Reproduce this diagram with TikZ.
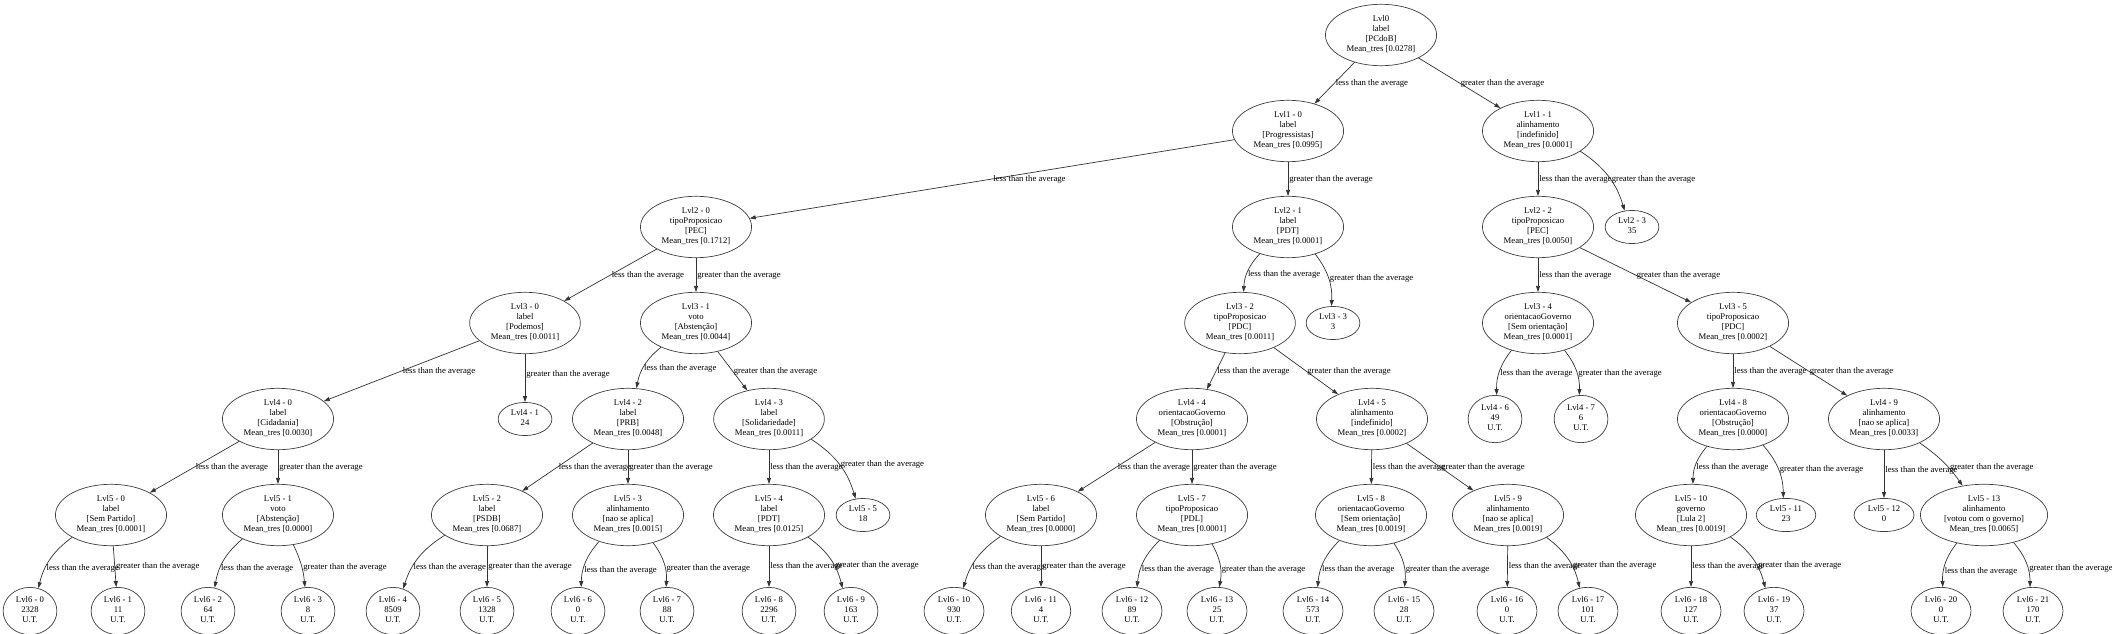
\documentclass[tikz,border=0pt]{standalone}
\usepackage{fontspec}
\setmainfont{Liberation Serif}
\usetikzlibrary{arrows.meta, shapes.geometric}

\begin{document}
\begin{tikzpicture}
      [x=1pt, y=1pt,
      font=\fontsize{8.7}{10}\selectfont,
      vertex/.style={ellipse, draw=black!75, line width=0.7pt, fill=white, align=center,
        inner xsep=5pt, inner ysep=2.2pt,
        execute at begin node=\strut, execute at end node=\strut},
      arr/.style={{Triangle[length=6pt,width=4pt]}-, draw=black!80, line width=0.7pt},
      lab/.style={anchor=west, inner sep=1pt}]
      \useasboundingbox (0,0) rectangle (2112,-634);
      \node (l0) at (1381,-35) [vertex] {Lvl0\\label\\{[PCdoB]}\\Mean\_tres [0.0278]};
      \node (l1n0) at (1288,-131) [vertex] {Lvl1 - 0\\label\\{[Progressistas]}\\Mean\_tres [0.0995]}
      edge[arr] node[lab] {less than the average} (l0);
      \node (l1n1) at (1538,-131) [vertex] {Lvl1 - 1\\alinhamento\\{[indefinido]}\\Mean\_tres [0.0001]}
      edge[arr] node[lab] {greater than the average} (l0);
      \node (l2n0) at (696,-227) [vertex] {Lvl2 - 0\\tipoProposicao\\{[PEC]}\\Mean\_tres [0.1712]}
      edge[arr] node[lab] {less than the average} (l1n0);
      \node (l2n1) at (1288,-227) [vertex] {Lvl2 - 1\\label\\{[PDT]}\\Mean\_tres [0.0001]}
      edge[arr] node[lab] {greater than the average} (l1n0);
      \node (l2n2) at (1538,-227) [vertex] {Lvl2 - 2\\tipoProposicao\\{[PEC]}\\Mean\_tres [0.0050]}
      edge[arr] node[lab] {less than the average} (l1n1);
      \node (l2n3) at (1632,-227) [vertex] {Lvl2 - 3\\35}
      edge[arr, bend right=20] node[lab, pos=.45] {greater than the average} (l1n1);
      \node (l3n0) at (525,-323) [vertex] {Lvl3 - 0\\label\\{[Podemos]}\\Mean\_tres [0.0011]}
      edge[arr] node[lab] {less than the average} (l2n0);
      \node (l3n1) at (696,-323) [vertex] {Lvl3 - 1\\voto\\{[Abstenção]}\\Mean\_tres [0.0044]}
      edge[arr] node[lab] {greater than the average} (l2n0);
      \node (l3n2) at (1240,-323) [vertex] {Lvl3 - 2\\tipoProposicao\\{[PDC]}\\Mean\_tres [0.0011]}
      edge[arr, bend left=20] node[lab, pos=.42] {less than the average} (l2n1);
      \node (l3n3) at (1333,-323) [vertex] {Lvl3 - 3\\3}
      edge[arr, bend right=20] node[lab] {greater than the average} (l2n1);
      \node (l3n4) at (1538,-323) [vertex] {Lvl3 - 4\\orientacaoGoverno\\{[Sem orientação]}\\Mean\_tres [0.0001]}
      edge[arr] node[lab] {less than the average} (l2n2);
      \node (l3n5) at (1733,-323) [vertex] {Lvl3 - 5\\tipoProposicao\\{[PDC]}\\Mean\_tres [0.0002]}
      edge[arr] node[lab] {greater than the average} (l2n2);
      \node (l4n0) at (278,-419) [vertex] {Lvl4 - 0\\label\\{[Cidadania]}\\Mean\_tres [0.0030]}
      edge[arr] node[lab] {less than the average} (l3n0);
      \node (l4n1) at (525,-419) [vertex] {Lvl4 - 1\\24}
      edge[arr] node[lab, pos=.58] {greater than the average} (l3n0);
      \node (l4n2) at (628,-419) [vertex] {Lvl4 - 2\\label\\{[PRB]}\\Mean\_tres [0.0048]}
      edge[arr, bend left=20] node[lab, pos=.42] {less than the average} (l3n1);
      \node (l4n3) at (769,-419) [vertex] {Lvl4 - 3\\label\\{[Solidariedade]}\\Mean\_tres [0.0011]}
      edge[arr] node[lab] {greater than the average} (l3n1);
      \node (l4n4) at (1192,-419) [vertex] {Lvl4 - 4\\orientacaoGoverno\\{[Obstrução]}\\Mean\_tres [0.0001]}
      edge[arr] node[lab] {less than the average} (l3n2);
      \node (l4n5) at (1372,-419) [vertex] {Lvl4 - 5\\alinhamento\\{[indefinido]}\\Mean\_tres [0.0002]}
      edge[arr] node[lab] {greater than the average} (l3n2);
      \node (l4n6) at (1495,-419) [vertex] {Lvl4 - 6\\49\\U.T.}
      edge[arr, bend left=20] node[lab, pos=.45] {less than the average} (l3n4);
      \node (l4n7) at (1581,-419) [vertex] {Lvl4 - 7\\6\\U.T.}
      edge[arr, bend right=20] node[lab, pos=.45] {greater than the average} (l3n4);
      \node (l4n8) at (1733,-419) [vertex] {Lvl4 - 8\\orientacaoGoverno\\{[Obstrução]}\\Mean\_tres [0.0000]}
      edge[arr] node[lab] {less than the average} (l3n5);
      \node (l4n9) at (1884,-419) [vertex] {Lvl4 - 9\\alinhamento\\{[nao se aplica]}\\Mean\_tres [0.0033]}
      edge[arr] node[lab] {greater than the average} (l3n5);
      \node (l5n0) at (111,-515) [vertex] {Lvl5 - 0\\label\\{[Sem Partido]}\\Mean\_tres [0.0001]}
      edge[arr] node[lab] {less than the average} (l4n0);
      \node (l5n1) at (278,-515) [vertex] {Lvl5 - 1\\voto\\{[Abstenção]}\\Mean\_tres [0.0000]}
      edge[arr] node[lab] {greater than the average} (l4n0);
      \node (l5n2) at (487,-515) [vertex] {Lvl5 - 2\\label\\{[PSDB]}\\Mean\_tres [0.0687]}
      edge[arr] node[lab] {less than the average} (l4n2);
      \node (l5n3) at (628,-515) [vertex] {Lvl5 - 3\\alinhamento\\{[nao se aplica]}\\Mean\_tres [0.0015]}
      edge[arr] node[lab] {greater than the average} (l4n2);
      \node (l5n4) at (769,-515) [vertex] {Lvl5 - 4\\label\\{[PDT]}\\Mean\_tres [0.0125]}
      edge[arr] node[lab] {less than the average} (l4n3);
      \node (l5n5) at (863,-515) [vertex] {Lvl5 - 5\\18}
      edge[arr, bend right=20] node[lab] {greater than the average} (l4n3);
      \node (l5n6) at (1041,-515) [vertex] {Lvl5 - 6\\label\\{[Sem Partido]}\\Mean\_tres [0.0000]}
      edge[arr] node[lab] {less than the average} (l4n4);
      \node (l5n7) at (1192,-515) [vertex] {Lvl5 - 7\\tipoProposicao\\{[PDL]}\\Mean\_tres [0.0001]}
      edge[arr] node[lab] {greater than the average} (l4n4);
      \node (l5n8) at (1371,-515) [vertex] {Lvl5 - 8\\orientacaoGoverno\\{[Sem orientação]}\\Mean\_tres [0.0019]}
      edge[arr] node[lab] {less than the average} (l4n5);
      \node (l5n9) at (1508,-515) [vertex] {Lvl5 - 9\\alinhamento\\{[nao se aplica]}\\Mean\_tres [0.0019]}
      edge[arr] node[lab] {greater than the average} (l4n5);
      \node (l5n10) at (1691,-515) [vertex] {Lvl5 - 10\\governo\\{[Lula 2]}\\Mean\_tres [0.0019]}
      edge[arr, bend left=20] node[lab, pos=.4] {less than the average} (l4n8);
      \node (l5n11) at (1786,-515) [vertex] {Lvl5 - 11\\23}
      edge[arr, bend right=20] node[lab] {greater than the average} (l4n8);
      \node (l5n12) at (1884,-515) [vertex] {Lvl5 - 12\\0}
      edge[arr] node[lab, pos=.58] {less than the average} (l4n9);
      \node (l5n13) at (1984,-515) [vertex] {Lvl5 - 13\\alinhamento\\{[votou com o governo]}\\Mean\_tres [0.0065]}
      edge[arr, bend right=10] node[lab, pos=.36] {greater than the average} (l4n9);
      \node (l6n0) at (30,-611) [vertex] {Lvl6 - 0\\2328\\U.T.}
      edge[arr, bend left=20] node[lab, pos=.33] {less than the average} (l5n0);
      \node (l6n1) at (118,-611) [vertex] {Lvl6 - 1\\11\\U.T.}
      edge[arr] node[lab] {greater than the average} (l5n0);
      \node (l6n2) at (208,-611) [vertex] {Lvl6 - 2\\64\\U.T.}
      edge[arr, bend left=20] node[lab, pos=.33] {less than the average} (l5n1);
      \node (l6n3) at (308,-611) [vertex] {Lvl6 - 3\\8\\U.T.}
      edge[arr, bend right=10] node[lab, pos=.44] {greater than the average} (l5n1);
      \node (l6n4) at (393,-611) [vertex] {Lvl6 - 4\\8509\\U.T.}
      edge[arr, bend left=20] node[lab, pos=.33] {less than the average} (l5n2);
      \node (l6n5) at (487,-611) [vertex] {Lvl6 - 5\\1328\\U.T.}
      edge[arr] node[lab] {greater than the average} (l5n2);
      \node (l6n6) at (578,-611) [vertex] {Lvl6 - 6\\0\\U.T.}
      edge[arr, bend left=20] node[lab, pos=.33] {less than the average} (l5n3);
      \node (l6n7) at (667,-611) [vertex] {Lvl6 - 7\\88\\U.T.}
      edge[arr, bend right=20] node[lab, pos=.38] {greater than the average} (l5n3);
      \node (l6n8) at (769,-611) [vertex] {Lvl6 - 8\\2296\\U.T.}
      edge[arr] node[lab] {less than the average} (l5n4);
      \node (l6n9) at (851,-611) [vertex] {Lvl6 - 9\\163\\U.T.}
      edge[arr, bend right=20] node[lab, pos=.38] {greater than the average} (l5n4);
      \node (l6n10) at (954,-611) [vertex] {Lvl6 - 10\\930\\U.T.}
      edge[arr, bend left=20] node[lab, pos=.33] {less than the average} (l5n6);
      \node (l6n11) at (1041,-611) [vertex] {Lvl6 - 11\\4\\U.T.}
      edge[arr] node[lab] {greater than the average} (l5n6);
      \node (l6n12) at (1132,-611) [vertex] {Lvl6 - 12\\89\\U.T.}
      edge[arr, bend left=20] node[lab, pos=.33] {less than the average} (l5n7);
      \node (l6n13) at (1217,-611) [vertex] {Lvl6 - 13\\25\\U.T.}
      edge[arr, bend right=20] node[lab, pos=.38] {greater than the average} (l5n7);
      \node (l6n14) at (1313,-611) [vertex] {Lvl6 - 14\\573\\U.T.}
      edge[arr, bend left=20] node[lab, pos=.33] {less than the average} (l5n8);
      \node (l6n15) at (1404,-611) [vertex] {Lvl6 - 15\\28\\U.T.}
      edge[arr, bend right=20] node[lab, pos=.38] {greater than the average} (l5n8);
      \node (l6n16) at (1507,-611) [vertex] {Lvl6 - 16\\0\\U.T.}
      edge[arr] node[lab] {less than the average} (l5n9);
      \node (l6n17) at (1588,-611) [vertex] {Lvl6 - 17\\101\\U.T.}
      edge[arr, bend right=20] node[lab, pos=.38] {greater than the average} (l5n9);
      \node (l6n18) at (1691,-611) [vertex] {Lvl6 - 18\\127\\U.T.}
      edge[arr] node[lab] {less than the average} (l5n10);
      \node (l6n19) at (1774,-611) [vertex] {Lvl6 - 19\\37\\U.T.}
      edge[arr, bend right=20] node[lab, pos=.38] {greater than the average} (l5n10);
      \node (l6n20) at (1941,-611) [vertex] {Lvl6 - 20\\0\\U.T.}
      edge[arr, bend left=20] node[lab, pos=.33] {less than the average} (l5n13);
      \node (l6n21) at (2033,-611) [vertex] {Lvl6 - 21\\170\\U.T.}
      edge[arr, bend right=20] node[lab, pos=.38] {greater than the average} (l5n13);
    \end{tikzpicture}
\end{document}
